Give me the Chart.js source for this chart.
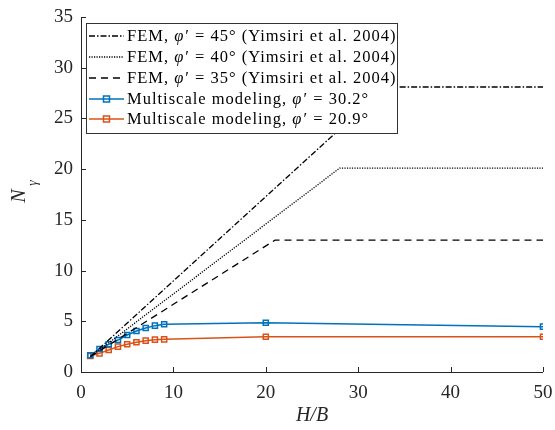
<!DOCTYPE html>
<html>
<head>
<meta charset="utf-8">
<script src="https://cdn.jsdelivr.net/npm/chart.js@4"></script>
<style>
html,body{margin:0;padding:0;background:#fff;}
#wrap{width:555px;height:430px;}
</style>
</head>
<body>
<div id="wrap"><canvas id="c" width="555" height="430"></canvas></div>
<script>
// ---- data ----
const hbMulti = [1, 2, 3, 4, 5, 6, 7, 8, 9, 20, 50];
const nGammaPhi302 = [1.65, 2.27, 2.73, 3.15, 3.65, 4.04, 4.34, 4.57, 4.70, 4.86, 4.47];
const nGammaPhi209 = [1.58, 1.84, 2.17, 2.50, 2.73, 2.93, 3.09, 3.19, 3.22, 3.48, 3.48];
const fem45X = [1, 33, 50];
const fem45Y = [1.5, 28.1, 28.1];
const fem40X = [1, 28, 50];
const fem40Y = [1.5, 20.1, 20.1];
const fem35X = [1, 21, 50];
const fem35Y = [1.5, 13.0, 13.0];
const xTicks = [0, 10, 20, 30, 40, 50];
const yTicks = [0, 5, 10, 15, 20, 25, 30, 35];
const legendLabels = [
  ['FEM, ', 'φ', '′ = 45° (Yimsiri et al. 2004)'],
  ['FEM, ', 'φ', '′ = 40° (Yimsiri et al. 2004)'],
  ['FEM, ', 'φ', '′ = 35° (Yimsiri et al. 2004)'],
  ['Multiscale modeling, ', 'φ', '′ = 30.2°'],
  ['Multiscale modeling, ', 'φ', '′ = 20.9°']
];

const BLUE = '#0072BD', ORANGE = '#D95319', AX = '#262626';
const SERIF = '"Liberation Serif", "Times New Roman", serif';

function pts(xs, ys){ return xs.map((x,i)=>({x:x, y:ys[i]})); }

const datasets = [
  {data: pts(fem45X, fem45Y), borderColor:'#000', borderWidth:1.3, borderDash:[6,2,1.5,2], pointRadius:0, _dash:[6,2,1.5,2]},
  {data: pts(fem40X, fem40Y), borderColor:'#000', borderWidth:1.3, borderDash:[1.2,1.3], pointRadius:0, _dash:[1.2,1.3]},
  {data: pts(fem35X, fem35Y), borderColor:'#000', borderWidth:1.3, borderDash:[7,5], pointRadius:0, _dash:[7,5]},
  {data: pts(hbMulti, nGammaPhi302), borderColor:BLUE, borderWidth:1.5, pointStyle:'rect', pointRadius:3.6, pointBorderWidth:1.5, pointBorderColor:BLUE, pointBackgroundColor:'rgba(255,255,255,0)', _dash:[]},
  {data: pts(hbMulti, nGammaPhi209), borderColor:ORANGE, borderWidth:1.5, pointStyle:'rect', pointRadius:3.6, pointBorderWidth:1.5, pointBorderColor:ORANGE, pointBackgroundColor:'rgba(255,255,255,0)', _dash:[]}
];

const decor = {
  id:'decor',
  afterDraw(chart){
    const ctx = chart.ctx, xs = chart.scales.x, ys = chart.scales.y, a = chart.chartArea;
    ctx.save();
    // axes lines
    ctx.strokeStyle = AX; ctx.lineWidth = 1; ctx.setLineDash([]);
    ctx.beginPath();
    ctx.moveTo(a.left+0.5, a.top); ctx.lineTo(a.left+0.5, a.bottom+0.5); ctx.lineTo(a.right, a.bottom+0.5);
    ctx.stroke();
    // inward ticks
    ctx.beginPath();
    xTicks.forEach(v=>{ const p = Math.round(xs.getPixelForValue(v))+0.5; ctx.moveTo(p, a.bottom); ctx.lineTo(p, a.bottom-5); });
    yTicks.forEach(v=>{ const p = Math.round(ys.getPixelForValue(v))+0.5; ctx.moveTo(a.left, p); ctx.lineTo(a.left+5, p); });
    ctx.stroke();
    // axis titles
    ctx.fillStyle = AX;
    ctx.font = 'italic 20px ' + SERIF;
    ctx.textAlign = 'center'; ctx.textBaseline = 'middle';
    ctx.fillText('H/B', (a.left+a.right)/2, 416);
    ctx.save();
    ctx.translate(20, 196); ctx.rotate(-Math.PI/2);
    ctx.font = 'italic 20px ' + SERIF;
    ctx.fillText('N', 0, 0);
    ctx.font = 'italic 14px ' + SERIF;
    ctx.fillText('γ', 13, 13);
    ctx.restore();
    // legend
    const bx = 86.5, by = 23.5, bw = 311, bh = 110;
    ctx.fillStyle = '#fff'; ctx.fillRect(bx, by, bw, bh);
    ctx.strokeStyle = '#333'; ctx.lineWidth = 1; ctx.strokeRect(bx, by, bw, bh);
    const rowY = [36, 57, 78, 99, 119];
    datasets.forEach((ds, i)=>{
      const y = rowY[i];
      ctx.strokeStyle = ds.borderColor; ctx.lineWidth = ds.borderWidth;
      ctx.setLineDash(ds._dash);
      ctx.beginPath(); ctx.moveTo(89, y); ctx.lineTo(124, y); ctx.stroke();
      ctx.setLineDash([]);
      if (ds.pointStyle === 'rect') {
        ctx.lineWidth = 1.5;
        ctx.strokeRect(106.5-3, y-3, 6, 6);
      }
      // text
      let tx = 127;
      ctx.fillStyle = '#000'; ctx.textAlign = 'left'; ctx.textBaseline = 'middle';
      ctx.letterSpacing = '1px';
      const segs = legendLabels[i];
      segs.forEach((s, k)=>{
        ctx.font = (k===1 ? 'italic ' : '') + '16.5px ' + SERIF;
        ctx.fillText(s, tx, y+1);
        tx += ctx.measureText(s).width + (k===1 ? 1 : 0);
      });
      ctx.letterSpacing = '0px';
    });
    ctx.restore();
  }
};

new Chart(document.getElementById('c'), {
  type:'line',
  data:{datasets: datasets},
  options:{
    responsive:false, animation:false, devicePixelRatio:1,
    layout:{padding:{left:0, right:12, top:17, bottom:0}},
    plugins:{legend:{display:false}, tooltip:{enabled:false}},
    elements:{line:{tension:0}},
    scales:{
      x:{type:'linear', min:0, max:50,
        afterBuildTicks(s){ s.ticks = xTicks.map(v=>({value:v})); },
        afterFit(s){ s.height = 58; s.paddingLeft = 0; s.paddingRight = 0; },
        grid:{display:false, drawTicks:false}, border:{display:false},
        ticks:{padding:10, color:AX, font:{family:SERIF, size:19}, maxRotation:0}
      },
      y:{type:'linear', min:0, max:35,
        afterBuildTicks(s){ s.ticks = yTicks.map(v=>({value:v})); },
        afterFit(s){ s.width = 81; s.paddingTop = 0; s.paddingBottom = 0; },
        grid:{display:false, drawTicks:false}, border:{display:false},
        ticks:{padding:8, color:AX, font:{family:SERIF, size:19}}
      }
    }
  },
  plugins:[decor]
});
</script>
</body>
</html>
